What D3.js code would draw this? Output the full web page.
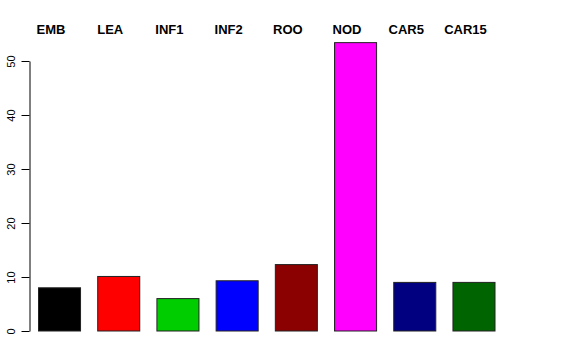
<!DOCTYPE html>
<html>
<head>
<meta charset="utf-8">
<script src="https://cdn.jsdelivr.net/npm/d3@7"></script>
<style>
  body { margin: 0; background: #fff; }
  svg { display: block; }
</style>
</head>
<body>
<svg id="chart"></svg>
<script>
// data
const categories = ["EMB", "LEA", "INF1", "INF2", "ROO", "NOD", "CAR5", "CAR15"];
const values = [8.0, 10.1, 6.0, 9.3, 12.3, 53.4, 9.0, 9.0];
const barColors = ["#000000", "#ff0000", "#00cd00", "#0000ff", "#8b0000", "#ff00ff", "#000080", "#006400"];
const yTicks = [0, 10, 20, 30, 40, 50];

const width = 576, height = 360;

const svg = d3.select("#chart")
    .attr("width", width)
    .attr("height", height);

const x = d3.scaleBand()
    .domain(categories)
    .range([38, 494.5])
    .paddingInner(0.29)
    .paddingOuter(0);

const y = d3.scaleLinear()
    .domain([0, 50])
    .range([331, 61]);

// bars
svg.append("g")
    .selectAll("rect")
    .data(categories)
    .join("rect")
    .attr("x", d => x(d) + 0.5)
    .attr("y", (d, i) => y(values[i]))
    .attr("width", x.bandwidth())
    .attr("height", (d, i) => y(0) - y(values[i]))
    .attr("fill", (d, i) => barColors[i])
    .attr("stroke", "#222")
    .attr("stroke-width", 1);

// y axis
const yAxis = svg.append("g")
    .attr("transform", "translate(29.5,0)")
    .call(d3.axisLeft(y).tickValues(yTicks).tickSize(8).tickSizeOuter(0).tickPadding(0));

yAxis.select(".domain").attr("stroke", "#000");
yAxis.selectAll(".tick line").attr("stroke", "#000");
yAxis.selectAll(".tick text")
    .attr("x", 0)
    .attr("y", 0)
    .attr("dy", 0)
    .attr("transform", "translate(-14.5,0) rotate(-90)")
    .attr("text-anchor", "middle")
    .style("font-family", "'Liberation Sans', Arial, sans-serif")
    .style("font-size", "11px")
    .attr("fill", "#000");

// category labels on top
svg.append("g")
    .selectAll("text")
    .data(categories)
    .join("text")
    .attr("x", d => x(d) + x.bandwidth() / 2 - 8)
    .attr("y", 34)
    .attr("text-anchor", "middle")
    .style("font-family", "'Liberation Sans', Arial, sans-serif")
    .style("font-size", "13px")
    .style("font-weight", "bold")
    .text(d => d);
</script>
</body>
</html>
